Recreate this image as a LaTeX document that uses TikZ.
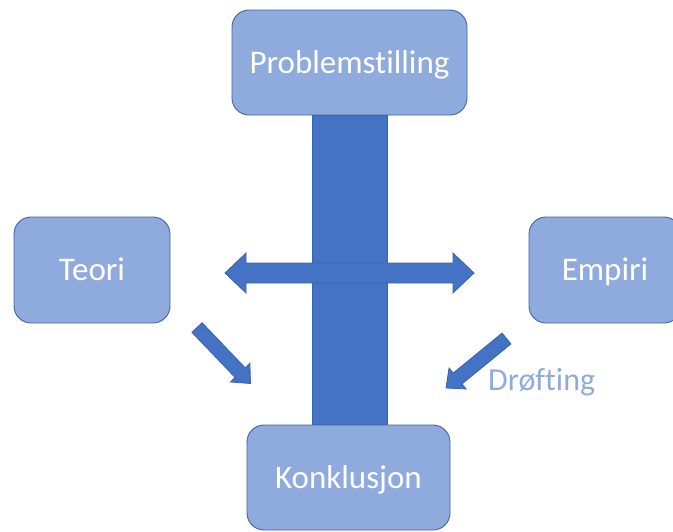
\documentclass[tikz,border=0pt]{standalone}
\usepackage{fontspec}
\setmainfont{Carlito}[Ligatures=NoCommon]
\usetikzlibrary{calc}
\definecolor{boxfill}{HTML}{8FAADC}
\definecolor{boxline}{HTML}{41649E}
\definecolor{darkfill}{HTML}{4472C4}
\definecolor{darkline}{HTML}{3A64AE}
\tikzset{
  stage/.style={draw=boxline, line width=0.9pt, fill=boxfill, rounded corners=17pt,
    inner sep=0pt, text=white, font=\fontsize{33}{39}\selectfont,
    text height=26pt, text depth=5pt},
  spine/.style={draw=darkline, line width=0.8pt, fill=darkfill},
  blockarrow/.style={draw=darkline, line width=0.8pt, fill=darkfill, line join=miter},
  note/.style={text=boxfill, font=\fontsize{32}{38}\selectfont, inner sep=0pt}
}
% #1 tail, #2 tip, #3 shaft half width, #4 head half width, #5 head length
\newcommand\arrowshape[5]{%
  \path ($(#2)!#5pt!(#1)$) coordinate (hb);
  \filldraw[blockarrow]
    ($(#1)!#3pt!90:(#2)$) -- ($(hb)!#3pt!90:(#2)$) -- ($(hb)!#4pt!90:(#2)$)
    -- (#2) -- ($(hb)!#4pt!-90:(#2)$) -- ($(hb)!#3pt!-90:(#2)$)
    -- ($(#1)!#3pt!-90:(#2)$) -- cycle;
}
\begin{document}
\begin{tikzpicture}[x=1pt, y=-1pt]
  \useasboundingbox (0,0) rectangle (673,531);
  \clip (0,0) rectangle (673,531);

  % central column between the question and the conclusion
  \coordinate (colTop) at (312,115);
  \coordinate (colBot) at (387,425);
  \filldraw[spine] (colTop) rectangle (colBot);

  \node[stage, minimum width=235pt, minimum height=105pt] (prob) at (349.5,62.5) {Problemstilling};
  \node[stage, minimum width=156pt, minimum height=106pt] (teori) at (92,270) {Teori};
  \node[stage, minimum width=152pt, minimum height=106pt] (empiri) at (605,270) {Empiri};
  \node[stage, minimum width=203pt, minimum height=105pt] (konk) at (348.5,477.5) {Konklusjon};

  % two-headed arrow across the column
  \coordinate (dL) at (225,273);
  \coordinate (dR) at (474,273);
  \filldraw[blockarrow]
    (dL) -- ($(dL)+(21,-20)$) -- ($(dL)+(21,-10)$) -- ($(dR)+(-21,-10)$)
    -- ($(dR)+(-21,-20)$) -- (dR) -- ($(dR)+(-21,20)$) -- ($(dR)+(-21,10)$)
    -- ($(dL)+(21,10)$) -- ($(dL)+(21,20)$) -- cycle;

  % diagonal arrows towards the conclusion
  \coordinate (t1) at (197,327.5);
  \coordinate (p1) at (250.5,383.5);
  \arrowshape{t1}{p1}{7}{13.5}{15}
  \coordinate (t2) at (506.5,338.5);
  \coordinate (p2) at (446,388);
  \arrowshape{t2}{p2}{7}{13.5}{15}

  \node[note, anchor=base west] (drof) at (488,390) {Drøfting};
\end{tikzpicture}
\end{document}
